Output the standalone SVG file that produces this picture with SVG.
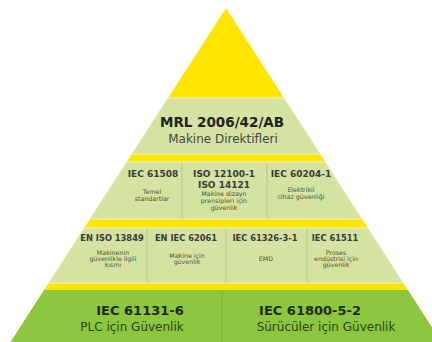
<svg xmlns="http://www.w3.org/2000/svg" width="432" height="342" viewBox="0 0 432 342">
<style>
.band{fill:#d5e3a2;stroke:#eef3c6;stroke-width:1}
.base{fill:#8dc63f}
.div{stroke:#b4c584;stroke-width:1}
.divb{stroke:#7fb335;stroke-width:1}
.t{font-family:"DejaVu Sans",sans-serif;text-anchor:middle}
.big{font-size:13.5px;font-weight:bold;fill:#222}
.sub{font-size:12px;fill:#444}
.h1{font-size:9px;font-weight:bold;fill:#3a3a3a}
.h2{font-size:8.3px;font-weight:bold;fill:#3a3a3a}
.s{font-size:6.3px;fill:#4a5530}
.bb{font-size:13px;font-weight:bold;fill:#1f2a12}
.bs{font-size:12px;fill:#2f4214}
</style>
<rect width="432" height="342" fill="#ffffff"/>
<g id="pyramid">
<polygon points="226,8 10.6,342 441.4,342" fill="#ffe500"/>
</g>
<g id="mrl">
<polygon class="band" points="168,98 284,98 320.2,154 131.8,154"/>
<text class="t big" x="222" y="127">MRL 2006/42/AB</text>
<text class="t sub" x="223" y="143">Makine Direktifleri</text>
</g>
<g id="row1">
<polygon class="band" points="126.7,162 325.3,162 362.1,219 89.9,219"/>
<line class="div" x1="182" y1="163" x2="182" y2="218"/>
<line class="div" x1="267" y1="163" x2="267" y2="218"/>
</g>
<g id="iec61508">
<text class="t h1" x="153" y="177">IEC 61508</text>
<text class="t s" x="152" y="194">Temel</text>
<text class="t s" x="152" y="201">standartlar</text>
</g>
<g id="iso12100">
<text class="t h1" x="224" y="177">ISO 12100-1</text>
<text class="t h1" x="224" y="188">ISO 14121</text>
<text class="t s" x="224" y="196">Makine dizayn</text>
<text class="t s" x="224" y="203">prensipleri için</text>
<text class="t s" x="224" y="210">güvenlik</text>
</g>
<g id="iec60204">
<text class="t h1" x="301" y="177">IEC 60204-1</text>
<text class="t s" x="301" y="192">Elektrikli</text>
<text class="t s" x="301" y="199">cihaz güvenliği</text>
</g>
<g id="row2">
<polygon class="band" points="84.1,228 367.9,228 403.4,283 48.6,283"/>
<line class="div" x1="147" y1="229" x2="147" y2="282"/>
<line class="div" x1="226" y1="229" x2="226" y2="282"/>
<line class="div" x1="307" y1="229" x2="307" y2="282"/>
</g>
<g id="en13849">
<text class="t h2" x="112" y="241">EN ISO 13849</text>
<text class="t s" x="113" y="255">Makinenin</text>
<text class="t s" x="113" y="261">güvenlikle ilgili</text>
<text class="t s" x="113" y="267">kısmı</text>
</g>
<g id="en62061">
<text class="t h2" x="186" y="241">EN IEC 62061</text>
<text class="t s" x="187" y="258">Makine için</text>
<text class="t s" x="187" y="264">güvenlik</text>
</g>
<g id="iec61326">
<text class="t h2" x="265" y="241">IEC 61326-3-1</text>
<text class="t s" x="266" y="261">EMD</text>
</g>
<g id="iec61511">
<text class="t h2" x="335" y="241">IEC 61511</text>
<text class="t s" x="336" y="255">Proses</text>
<text class="t s" x="336" y="261">endüstrisi için</text>
<text class="t s" x="336" y="267">güvenlik</text>
</g>
<g id="base">
<polygon class="base" points="44.1,290 407.9,290 441.4,342 10.6,342"/>
<line class="divb" x1="222" y1="291" x2="222" y2="342"/>
</g>
<g id="iec61131">
<text class="t bb" x="140" y="315">IEC 61131-6</text>
<text class="t bs" x="132" y="331">PLC için Güvenlik</text>
</g>
<g id="iec61800">
<text class="t bb" x="310" y="315">IEC 61800-5-2</text>
<text class="t bs" x="326" y="331">Sürücüler için Güvenlik</text>
</g>
</svg>
